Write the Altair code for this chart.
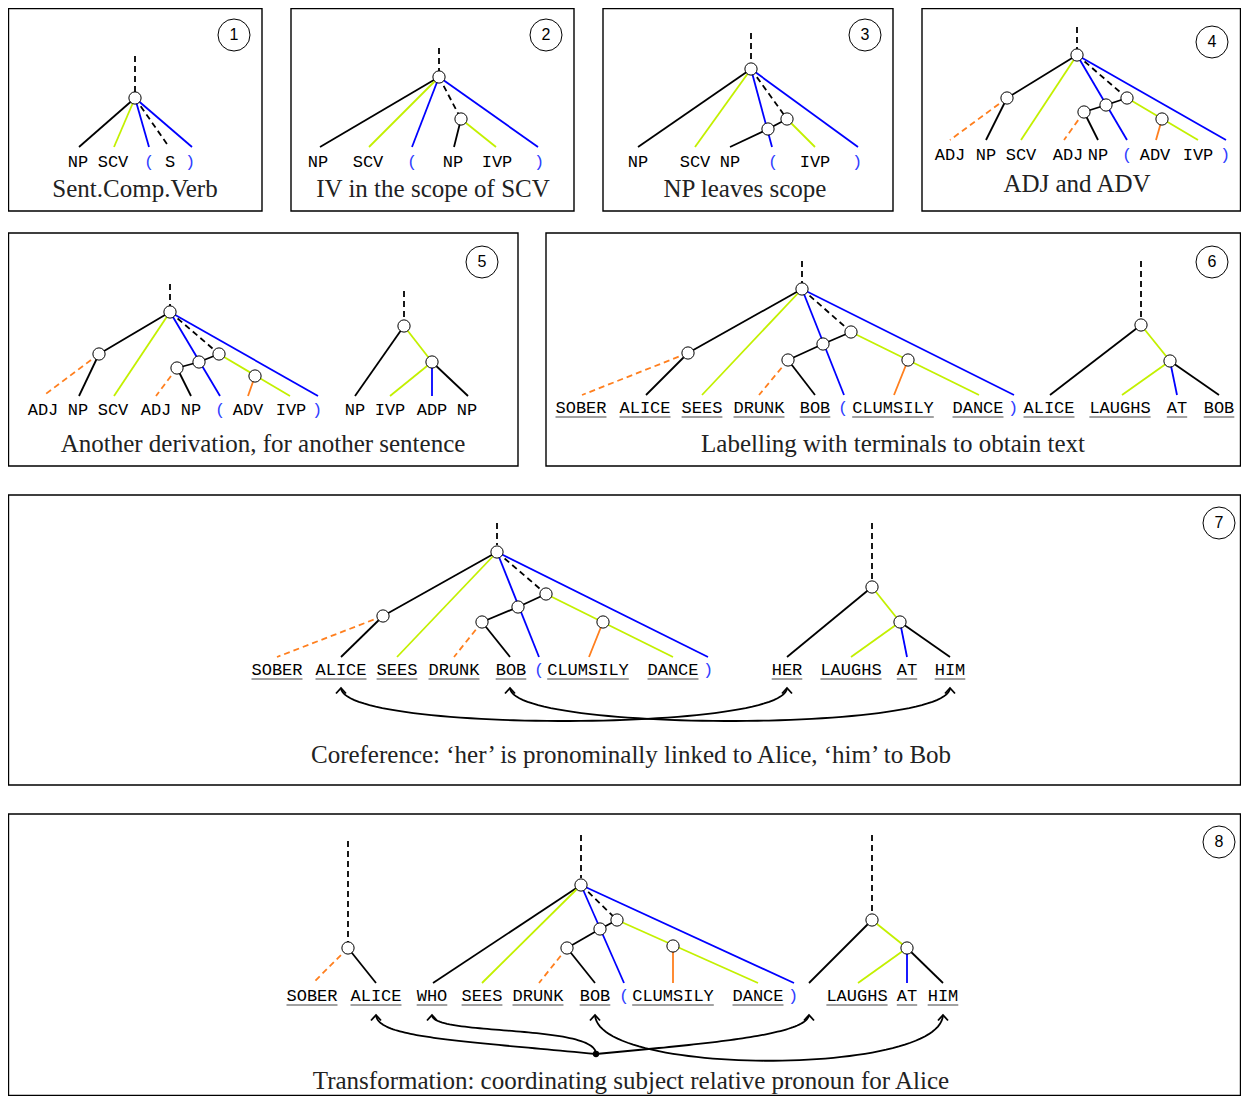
import altair as alt
import pandas as pd
import numpy as np

K = "#000000"   # black edge
G = "#c3f000"   # lime edge
B = "#0000ff"   # blue edge
O = "#ff7f1e"   # orange edge
PB = "#3040ff"  # blue parenthesis text

# panel frames: x1, y1, x2, y2
PANELS = [
    (8.5, 8.5, 262, 211), (291, 8.5, 574, 211), (603, 8.5, 893, 211), (922, 8.5, 1240.5, 211),
    (8.5, 233, 518, 466), (546, 233, 1240.5, 466),
    (8.5, 495, 1240.5, 785),
    (8.5, 814, 1240.5, 1095.5),
]
# numbered badges
BADGES = [(234, 35, "1"), (546, 35, "2"), (865, 35, "3"), (1212, 42, "4"),
          (482, 262, "5"), (1212, 262, "6"), (1219, 523, "7"), (1219, 842, "8")]
# captions
CAPTIONS = [
    (135, 189, "Sent.Comp.Verb"),
    (433, 189, "IV in the scope of SCV"),
    (745, 189, "NP leaves scope"),
    (1077, 184, "ADJ and ADV"),
    (263, 444, "Another derivation, for another sentence"),
    (893, 444, "Labelling with terminals to obtain text"),
    (631, 755, "Coreference: \u2018her\u2019 is pronominally linked to Alice, \u2018him\u2019 to Bob"),
    (631, 1081, "Transformation: coordinating subject relative pronoun for Alice"),
]

# tree nodes (x, y)
NODES = [
    (135, 98),
    (439, 77), (461, 119),
    (751, 69), (768, 129), (787, 119),
    (1077, 55), (1007, 98), (1106, 105), (1127, 98), (1084, 112), (1162, 119),
    (170, 312), (99, 354), (199, 362), (219, 354), (177, 368), (255, 376), (404, 326), (432, 362),
    (802, 289), (688, 353), (823, 344), (851, 332), (788, 360), (908, 360), (1141, 325), (1170, 361),
    (497, 552), (383, 616), (518, 607), (546, 594), (482, 622), (603, 622), (872, 587), (900, 622),
    (348, 948), (581, 885), (600, 929), (617, 920), (567, 948), (673, 946), (872, 920), (907, 948),
]

# edges: x1, y1, x2, y2, colour, dashed
EDGES_1 = [(135, 56, 135, 92, K, 1), (135, 98, 79, 147, K, 0), (135, 98, 114, 147, G, 0),
           (135, 98, 149, 147, B, 0), (135, 98, 169, 147, K, 1), (135, 98, 192, 147, B, 0)]
EDGES_2 = [(439, 48, 439, 71, K, 1), (439, 77, 320, 147, K, 0), (439, 77, 369, 147, G, 0),
           (439, 77, 412, 147, B, 0), (439, 77, 461, 119, K, 1), (439, 77, 538, 147, B, 0),
           (461, 119, 454, 147, K, 0), (461, 119, 496, 147, G, 0)]
EDGES_3 = [(751, 33, 751, 63, K, 1), (751, 69, 638, 147, K, 0), (751, 69, 695, 147, G, 0),
           (751, 69, 772, 147, B, 0), (751, 69, 787, 119, K, 1), (751, 69, 858, 147, B, 0),
           (768, 129, 787, 119, K, 0), (768, 129, 730, 147, K, 0), (787, 119, 815, 147, G, 0)]
EDGES_4 = [(1077, 27, 1077, 50, K, 1), (1077, 55, 1007, 98, K, 0), (1007, 98, 950, 140, O, 1),
           (1007, 98, 986, 140, K, 0), (1077, 55, 1021, 140, G, 0), (1077, 55, 1127, 140, B, 0),
           (1077, 55, 1127, 98, K, 1), (1077, 55, 1226, 140, B, 0), (1106, 105, 1127, 98, K, 0),
           (1106, 105, 1084, 112, K, 0), (1084, 112, 1064, 140, O, 1), (1084, 112, 1098, 140, K, 0),
           (1127, 98, 1198, 140, G, 0), (1162, 119, 1156, 140, O, 0)]
EDGES_5 = [(170, 284, 170, 306, K, 1), (170, 312, 99, 354, K, 0), (99, 354, 43, 396, O, 1),
           (99, 354, 79, 396, K, 0), (170, 312, 114, 396, G, 0), (170, 312, 220, 396, B, 0),
           (170, 312, 219, 354, K, 1), (170, 312, 318, 396, B, 0), (199, 362, 219, 354, K, 0),
           (199, 362, 177, 368, K, 0), (177, 368, 156, 396, O, 1), (177, 368, 191, 396, K, 0),
           (219, 354, 290, 396, G, 0), (255, 376, 248, 396, O, 0),
           (404, 291, 404, 319, K, 1), (404, 326, 355, 396, K, 0), (404, 326, 432, 362, G, 0),
           (432, 362, 390, 396, G, 0), (432, 362, 432, 396, B, 0), (432, 362, 468, 396, K, 0)]
EDGES_6 = [(802, 261, 802, 283, K, 1), (802, 289, 688, 353, K, 0), (688, 353, 582, 395, O, 1),
           (688, 353, 646, 395, K, 0), (802, 289, 702, 395, G, 0), (802, 289, 844, 395, B, 0),
           (802, 289, 851, 332, K, 1), (802, 289, 1014, 395, B, 0), (823, 344, 851, 332, K, 0),
           (823, 344, 788, 360, K, 0), (788, 360, 759, 395, O, 1), (788, 360, 815, 395, K, 0),
           (851, 332, 979, 395, G, 0), (908, 360, 894, 395, O, 0),
           (1141, 261, 1141, 318, K, 1), (1141, 325, 1050, 395, K, 0), (1141, 325, 1170, 361, G, 0),
           (1170, 361, 1122, 395, G, 0), (1170, 361, 1177, 395, B, 0), (1170, 361, 1219, 395, K, 0)]
EDGES_7 = [(497, 523, 497, 545, K, 1), (497, 552, 383, 616, K, 0), (383, 616, 277, 657, O, 1),
           (383, 616, 341, 657, K, 0), (497, 552, 397, 657, G, 0), (497, 552, 539, 657, B, 0),
           (497, 552, 546, 594, K, 1), (497, 552, 708, 657, B, 0), (518, 607, 546, 594, K, 0),
           (518, 607, 482, 622, K, 0), (482, 622, 454, 657, O, 1), (482, 622, 510, 657, K, 0),
           (546, 594, 673, 657, G, 0), (603, 622, 589, 657, O, 0),
           (872, 523, 872, 580, K, 1), (872, 587, 787, 657, K, 0), (872, 587, 900, 622, G, 0),
           (900, 622, 851, 657, G, 0), (900, 622, 907, 657, B, 0), (900, 622, 950, 657, K, 0)]
EDGES_8 = [(348, 841, 348, 942, K, 1), (348, 948, 313, 983, O, 1), (348, 948, 376, 983, K, 0),
           (581, 835, 581, 878, K, 1), (581, 885, 433, 983, K, 0), (581, 885, 482, 983, G, 0),
           (581, 885, 624, 983, B, 0), (581, 885, 617, 920, K, 1), (581, 885, 794, 983, B, 0),
           (600, 929, 617, 920, K, 0), (600, 929, 567, 948, K, 0), (567, 948, 539, 983, O, 1),
           (567, 948, 595, 983, K, 0), (617, 920, 758, 983, G, 0), (673, 946, 673, 983, O, 0),
           (872, 835, 872, 913, K, 1), (872, 920, 809, 983, K, 0), (872, 920, 907, 948, G, 0),
           (907, 948, 858, 983, G, 0), (907, 948, 907, 983, B, 0), (907, 948, 943, 983, K, 0)]

# plain category labels (x, y, text, colour)
LABELS = [
    (78, 162, "NP", K), (113, 162, "SCV", K), (149, 162, "(", PB), (170, 162, "S", K), (190, 162, ")", PB),
    (318, 162, "NP", K), (368, 162, "SCV", K), (412, 162, "(", PB), (453, 162, "NP", K), (497, 162, "IVP", K), (539, 162, ")", PB),
    (638, 162, "NP", K), (695, 162, "SCV", K), (730, 162, "NP", K), (773, 162, "(", PB), (815, 162, "IVP", K), (857, 162, ")", PB),
    (950, 155, "ADJ", K), (986, 155, "NP", K), (1021, 155, "SCV", K), (1068, 155, "ADJ", K), (1098, 155, "NP", K),
    (1127, 155, "(", PB), (1155, 155, "ADV", K), (1198, 155, "IVP", K), (1225, 155, ")", PB),
    (43, 410, "ADJ", K), (78, 410, "NP", K), (113, 410, "SCV", K), (156, 410, "ADJ", K), (191, 410, "NP", K),
    (220, 410, "(", PB), (248, 410, "ADV", K), (291, 410, "IVP", K), (317, 410, ")", PB),
    (355, 410, "NP", K), (390, 410, "IVP", K), (432, 410, "ADP", K), (467, 410, "NP", K),
    (843, 408, "(", PB), (1013, 408, ")", PB),
    (539, 670, "(", PB), (708, 670, ")", PB),
    (624, 996, "(", PB), (793, 996, ")", PB),
]
# underlined terminal words (x, y, text)
WORDS = [
    (581, 408, "SOBER"), (645, 408, "ALICE"), (702, 408, "SEES"), (759, 408, "DRUNK"), (815, 408, "BOB"),
    (893, 408, "CLUMSILY"), (978, 408, "DANCE"), (1049, 408, "ALICE"), (1120, 408, "LAUGHS"),
    (1177, 408, "AT"), (1219, 408, "BOB"),
    (277, 670, "SOBER"), (341, 670, "ALICE"), (397, 670, "SEES"), (454, 670, "DRUNK"), (511, 670, "BOB"),
    (588, 670, "CLUMSILY"), (673, 670, "DANCE"), (787, 670, "HER"), (851, 670, "LAUGHS"),
    (907, 670, "AT"), (950, 670, "HIM"),
    (312, 996, "SOBER"), (376, 996, "ALICE"), (432, 996, "WHO"), (482, 996, "SEES"), (538, 996, "DRUNK"),
    (595, 996, "BOB"), (673, 996, "CLUMSILY"), (758, 996, "DANCE"), (857, 996, "LAUGHS"),
    (907, 996, "AT"), (943, 996, "HIM"),
]
CHAR_W = 10.2
# link curves: cubic control points
ARCS = [
    [(341, 688), (343, 732), (785, 732), (787, 688)],
    [(510, 688), (512, 732), (948, 732), (950, 688)],
    [(376, 1015), (378, 1037), (450, 1040), (596, 1054)],
    [(432, 1015), (432, 1036), (596, 1024), (596, 1054)],
    [(596, 1054), (700, 1044), (806, 1036), (809, 1015)],
    [(595, 1015), (598, 1076), (940, 1076), (943, 1015)],
]
TIPS = [(341, 688), (787, 688), (510, 688), (950, 688), (376, 1015), (432, 1015),
        (809, 1015), (595, 1015), (943, 1015)]
JUNCTION = [(596, 1054)]

# ---------- tables ----------
panels = pd.DataFrame(PANELS, columns=["x", "y", "x2", "y2"])
badges = pd.DataFrame(BADGES, columns=["x", "y", "t"])
captions = pd.DataFrame(CAPTIONS, columns=["x", "y", "t"])
nodes = pd.DataFrame(NODES, columns=["x", "y"])
edges = pd.DataFrame(EDGES_1 + EDGES_2 + EDGES_3 + EDGES_4 + EDGES_5 + EDGES_6 + EDGES_7 + EDGES_8,
                     columns=["x", "y", "x2", "y2", "c", "d"])
labels = pd.DataFrame(LABELS, columns=["x", "y", "t", "c"])
words = pd.DataFrame(WORDS, columns=["x", "y", "t"])
ul = pd.DataFrame({"x": words.x - words.t.str.len() * CHAR_W / 2,
                   "x2": words.x + words.t.str.len() * CHAR_W / 2,
                   "y": words.y + 9})
rows = []
ts = np.linspace(0, 1, 60)
for k, (p0, p1, p2, p3) in enumerate(ARCS):
    for i, t in enumerate(ts):
        a, b, c, d = (1 - t) ** 3, 3 * (1 - t) ** 2 * t, 3 * (1 - t) * t ** 2, t ** 3
        rows.append({"g": f"a{k}", "i": i,
                     "x": a * p0[0] + b * p1[0] + c * p2[0] + d * p3[0],
                     "y": a * p0[1] + b * p1[1] + c * p2[1] + d * p3[1]})
for k, (x, y) in enumerate(TIPS):
    for i, (dx, dy) in enumerate([(-5, 5.5), (0, 0), (5, 5.5)]):
        rows.append({"g": f"t{k}", "i": i, "x": x + dx, "y": y + dy})
curves = pd.DataFrame(rows)
junction = pd.DataFrame(JUNCTION, columns=["x", "y"])

XS = alt.Scale(domain=[8, 1241], nice=False, zero=False)
YS = alt.Scale(domain=[8, 1096], nice=False, zero=False, reverse=True)
X = alt.X("x:Q", scale=XS, axis=None)
Y = alt.Y("y:Q", scale=YS, axis=None)

frames = alt.Chart(panels).mark_rect(fill="transparent", stroke="black", strokeWidth=1.4).encode(
    x=X, y=Y, x2="x2:Q", y2="y2:Q")
solid = alt.Chart(edges).transform_filter("datum.d == 0").mark_rule(strokeWidth=1.8).encode(
    x=X, y=Y, x2="x2:Q", y2="y2:Q", color=alt.Color("c:N", scale=None))
dashed = alt.Chart(edges).transform_filter("datum.d == 1").mark_rule(strokeWidth=1.8, strokeDash=[6, 4]).encode(
    x=X, y=Y, x2="x2:Q", y2="y2:Q", color=alt.Color("c:N", scale=None))
node_pts = alt.Chart(nodes).mark_point(shape="circle", fill="white", stroke="black", strokeWidth=1,
                                       size=150, opacity=1, fillOpacity=1).encode(x=X, y=Y)
badge_pts = alt.Chart(badges).mark_point(shape="circle", fill="white", stroke="black", strokeWidth=1,
                                         size=1024, opacity=1, fillOpacity=1).encode(x=X, y=Y)
badge_txt = alt.Chart(badges).mark_text(font="Liberation Sans", fontSize=16, baseline="middle").encode(
    x=X, y=Y, text="t:N")
cap_txt = alt.Chart(captions).mark_text(font="Liberation Serif", fontSize=25, baseline="middle",
                                        color="#222").encode(x=X, y=Y, text="t:N")
lab_txt = alt.Chart(labels).mark_text(font="Liberation Mono", fontSize=17, baseline="middle").encode(
    x=X, y=Y, text="t:N", color=alt.Color("c:N", scale=None))
word_txt = alt.Chart(words).mark_text(font="Liberation Mono", fontSize=17, baseline="middle",
                                      color="black").encode(x=X, y=Y, text="t:N")
ul_rules = alt.Chart(ul).mark_rule(strokeWidth=1, color="#444").encode(x=X, y=Y, x2="x2:Q")
curve_lines = alt.Chart(curves).mark_line(strokeWidth=1.8, color="black").encode(
    x=X, y=Y, detail="g:N", order="i:Q")
junc = alt.Chart(junction).mark_point(shape="circle", filled=True, color="black", size=40, opacity=1).encode(
    x=X, y=Y)

chart = alt.layer(frames, solid, dashed, node_pts, badge_pts, badge_txt, cap_txt, lab_txt, word_txt,
                  ul_rules, curve_lines, junc).properties(
    width=1233, height=1088, autosize=alt.AutoSizeParams(type="none"), padding=0,
    background="white").configure_view(strokeWidth=0)

chart.save("out.html", embed_options={"renderer": "svg", "actions": False})
